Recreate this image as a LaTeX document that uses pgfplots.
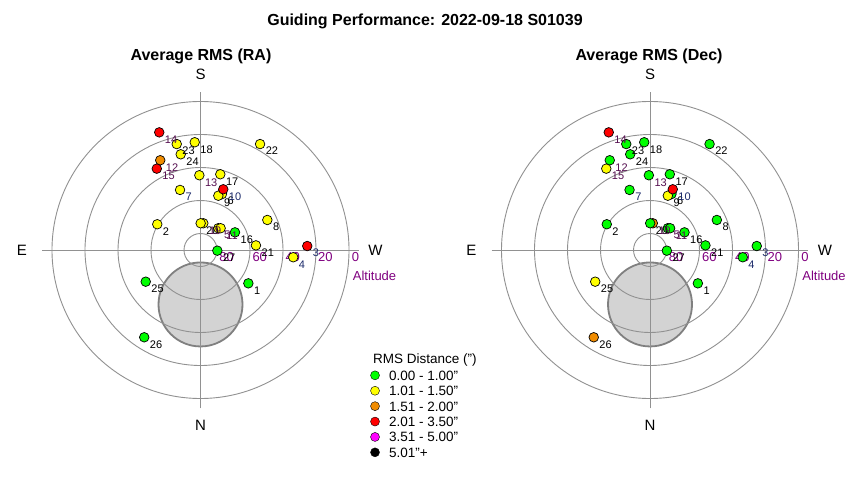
\documentclass[border=0pt]{standalone}
\usepackage{fontspec}
\setmainfont{Liberation Sans}
\usepackage{pgfplots}
\usepackage{pgfplotstable}
\pgfplotsset{compat=1.18}
\definecolor{cg}{RGB}{0,255,0}
\definecolor{cy}{RGB}{255,255,0}
\definecolor{co}{RGB}{240,140,0}
\definecolor{cr}{RGB}{255,0,0}
\definecolor{cm}{RGB}{255,0,255}
\definecolor{ck}{RGB}{0,0,0}
\definecolor{ringc}{RGB}{145,145,145}
\definecolor{discf}{RGB}{211,211,211}
\definecolor{disce}{RGB}{128,128,128}
\definecolor{altc}{RGB}{128,0,128}
\definecolor{labk}{RGB}{0,0,0}
\definecolor{labp}{RGB}{85,15,80}
\definecolor{labb}{RGB}{25,40,105}

% lc: label colour 0 black, 1 purple, 2 navy
\pgfplotstableread{
lab x y ra dec lc
1 29.0 -20.2 G G 0
2 -26.2 15.6 Y G 0
3 64.7 2.4 R G 2
4 56.2 -4.4 Y G 2
5 10.8 13.2 Y G 1
6 13.0 33.9 Y G 0
7 -12.4 36.4 Y G 2
8 40.5 18.2 Y G 0
9 10.8 32.9 Y Y 0
10 13.8 36.8 R R 2
11 12.2 13.2 Y G 1
12 -24.4 54.4 O G 1
13 -0.7 45.3 Y G 1
14 -25.0 71.3 R R 1
15 -26.5 49.3 R Y 1
16 20.9 10.7 G G 0
17 12.0 45.9 Y G 0
18 -3.5 65.3 Y G 0
19 1.7 16.2 Y O 1
20 0.1 16.2 Y G 0
21 33.6 2.8 Y G 0
22 36.1 64.2 Y G 0
23 -14.4 64.2 Y G 0
24 -12.0 58.0 Y G 0
25 -33.2 -19.2 G Y 0
26 -34.1 -52.9 G O 0
27 10.2 -0.4 G G 0
}\pts

\pgfplotsset{
  polarstyle/.style={
    x=1.65pt, y=1.65pt,
    xmin=-100, xmax=100, ymin=-100, ymax=100,
    hide axis, clip=false, anchor=center,
  },
}

\newcommand{\decor}{%
  \fill[discf] (axis cs:0,-33) circle[radius=42pt];
  \draw[disce, line width=1.8pt] (axis cs:0,-33) circle[radius=42pt];
  \draw[ringc, line width=0.9pt] (axis cs:0,0) circle[radius=16.5pt];
  \draw[ringc, line width=0.9pt] (axis cs:0,0) circle[radius=49.5pt];
  \draw[ringc, line width=0.9pt] (axis cs:0,0) circle[radius=82.5pt];
  \draw[ringc, line width=0.9pt] (axis cs:0,0) circle[radius=115.5pt];
  \draw[ringc, line width=0.9pt] (axis cs:0,0) circle[radius=148.5pt];
  \draw[ringc, line width=0.9pt] (axis cs:-96,0) -- (axis cs:96,0);
  \draw[ringc, line width=0.9pt] (axis cs:0,-96) -- (axis cs:0,96);
  \node[font=\fontsize{15}{18}\selectfont] at (axis cs:0,106.7) {S};
  \node[font=\fontsize{15}{18}\selectfont] at (axis cs:0,-106.3) {N};
  \node[font=\fontsize{15}{18}\selectfont] at (axis cs:-108.2,0) {E};
  \node[font=\fontsize{15}{18}\selectfont] at (axis cs:106,0) {W};
  \node[altc, anchor=west, inner sep=0pt, font=\fontsize{13}{15}\selectfont] at (axis cs:11.3,-4.3) {80};
  \node[altc, anchor=west, inner sep=0pt, font=\fontsize{13}{15}\selectfont] at (axis cs:31.4,-4.3) {60};
  \node[altc, anchor=west, inner sep=0pt, font=\fontsize{13}{15}\selectfont] at (axis cs:51.4,-4.3) {40};
  \node[altc, anchor=west, inner sep=0pt, font=\fontsize{13}{15}\selectfont] at (axis cs:71.2,-4.3) {20};
  \node[altc, anchor=west, inner sep=0pt, font=\fontsize{13}{15}\selectfont] at (axis cs:91.6,-4.3) {0};
  \node[altc, anchor=west, inner sep=0pt, font=\fontsize{13}{15}\selectfont] at (axis cs:92.2,-15.4) {Altitude};
}

\newcommand{\labplot}[2]{%
  \addplot[only marks, mark=none, point meta=explicit symbolic,
    x filter/.expression={\thisrow{lc}==#1 ? x : nan},
    nodes near coords,
    nodes near coords style={anchor=west, xshift=5.5pt, yshift=-7pt,
      inner sep=0pt, text=#2, font=\fontsize{11}{13}\selectfont},
    forget plot]
    table[x=x, y=y, meta=lab] {\pts};
}

\newcommand{\rmsmarks}[1]{%
  \addplot[scatter, only marks, mark=*, mark size=4.8pt,
    point meta=explicit symbolic,
    scatter/classes={
      G={mark=*,draw=black,fill=cg,line width=0.7pt},
      Y={mark=*,draw=black,fill=cy,line width=0.7pt},
      O={mark=*,draw=black,fill=co,line width=0.7pt},
      R={mark=*,draw=black,fill=cr,line width=0.7pt},
      M={mark=*,draw=black,fill=cm,line width=0.7pt},
      K={mark=*,draw=black,fill=ck,line width=0.7pt}},
    forget plot]
    table[x=x, y=y, meta=#1] {\pts};
  \labplot{0}{labk}
  \labplot{1}{labp}
  \labplot{2}{labb}
}

\begin{document}
\begin{tikzpicture}
\fill[white] (0pt,0pt) rectangle (850pt,480pt);
\node[anchor=base, font=\bfseries\fontsize{16}{19}\selectfont] at (425pt,454pt) {Guiding Performance: 2022-09-18 S01039};
\node[anchor=base, font=\bfseries\fontsize{16}{19}\selectfont] at (201pt,419pt) {Average RMS (RA)};
\node[anchor=base, font=\bfseries\fontsize{16}{19}\selectfont] at (649pt,419pt) {Average RMS (Dec)};
\node[anchor=west, inner sep=0pt, font=\fontsize{13.5}{16}\selectfont] at (373pt,120pt) {RMS Distance (")};

\begin{axis}[polarstyle, at={(200.5pt,230pt)},
  legend cell align=left,
  legend style={at={(1.0152,0.1394)}, anchor=north west, draw=none, fill=none,
    inner sep=0pt, outer sep=0pt, column sep=9.5pt, row sep=2.7pt,
    font=\fontsize{13.5}{16}\selectfont,
    nodes={inner sep=0pt, text height=11.2pt, text depth=1.5pt}},
  legend image code/.code={\draw[#1] plot coordinates {(0pt,0pt)};},
]
\decor
\addlegendimage{only marks, mark=*, mark size=4.5pt, draw=black, fill=cg}
\addlegendentry{0.00 - 1.00"}
\addlegendimage{only marks, mark=*, mark size=4.5pt, draw=black, fill=cy}
\addlegendentry{1.01 - 1.50"}
\addlegendimage{only marks, mark=*, mark size=4.5pt, draw=black, fill=co}
\addlegendentry{1.51 - 2.00"}
\addlegendimage{only marks, mark=*, mark size=4.5pt, draw=black, fill=cr}
\addlegendentry{2.01 - 3.50"}
\addlegendimage{only marks, mark=*, mark size=4.5pt, draw=black, fill=cm}
\addlegendentry{3.51 - 5.00"}
\addlegendimage{only marks, mark=*, mark size=4.5pt, draw=black, fill=ck}
\addlegendentry{5.01"+}
\rmsmarks{ra}
\end{axis}

\begin{axis}[polarstyle, at={(650pt,230pt)}]
\decor
\rmsmarks{dec}
\end{axis}
\pgfresetboundingbox
\useasboundingbox (0pt,0pt) rectangle (850pt,480pt);
\end{tikzpicture}
\end{document}
